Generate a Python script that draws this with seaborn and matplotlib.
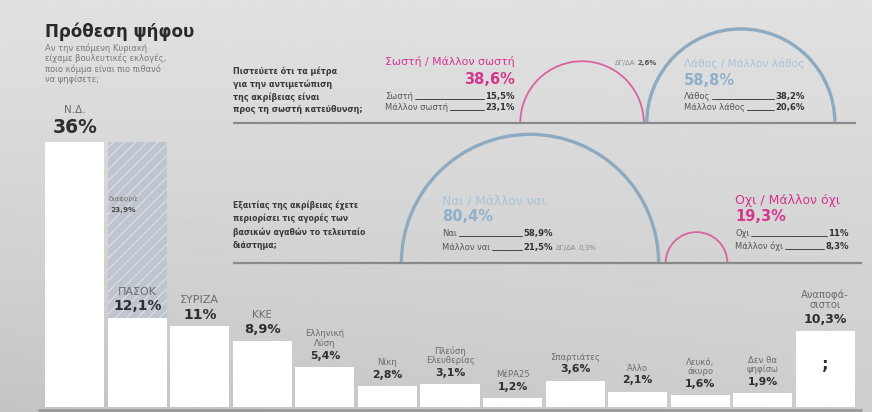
import numpy as np
import pandas as pd
import matplotlib
matplotlib.use('Agg')
import matplotlib.pyplot as plt
from matplotlib.patches import Arc
import seaborn as sns

# ---------------- data ----------------
parties = ['Ν.Δ.', 'ΠΑΣΟΚ', 'ΣΥΡΙΖΑ', 'ΚΚΕ', 'Ελληνική\nΛύση', 'Νίκη',
           'Πλεύση\nΕλευθερίας', 'ΜέΡΑ25', 'Σπαρτιάτες', 'Άλλο',
           'Λευκό,\nάκυρο', 'Δεν θα\nψηφίσω', 'Αναποφά-\nσιστοι']
vote = [36, 12.1, 11, 8.9, 5.4, 2.8, 3.1, 1.2, 3.6, 2.1, 1.6, 1.9, 10.3]
vote_labels = ['36%', '12,1%', '11%', '8,9%', '5,4%', '2,8%', '3,1%',
               '1,2%', '3,6%', '2,1%', '1,6%', '1,9%', '10,3%']
gap_labels = ['διαφορά', '23,9%']

title = 'Πρόθεση ψήφου'
subtitle = 'Αν την επόμενη Κυριακή\nείχαμε βουλευτικές εκλογές,\nποιο κόμμα είναι πιο πιθανό\nνα ψηφίσετε;'

q1_text = 'Πιστεύετε ότι τα μέτρα\nγια την αντιμετώπιση\nτης ακρίβειας είναι\nπρος τη σωστή κατεύθυνση;'
q1_groups = ['Σωστή / Μάλλον σωστή', 'Λάθος / Μάλλον λάθος']
q1_totals = [38.6, 58.8]
q1_total_labels = ['38,6%', '58,8%']
q1_sub = [['Σωστή', 'Μάλλον σωστή'], ['Λάθος', 'Μάλλον λάθος']]
q1_sub_labels = [['15,5%', '23,1%'], ['38,2%', '20,6%']]
q1_dk = ['ΔΓ/ΔΑ', '2,6%']

q2_text = 'Εξαιτίας της ακρίβειας έχετε\nπεριορίσει τις αγορές των\nβασικών αγαθών το τελευταίο\nδιάστημα;'
q2_groups = ['Ναι / Μάλλον ναι', 'Οχι / Μάλλον όχι']
q2_totals = [80.4, 19.3]
q2_total_labels = ['80,4%', '19,3%']
q2_sub = [['Ναι', 'Μάλλον ναι'], ['Οχι', 'Μάλλον όχι']]
q2_sub_labels = [['58,9%', '21,5%'], ['11%', '8,3%']]
q2_dk = ['ΔΓ/ΔΑ', '0,3%']

# ---------------- style ----------------
sns.set_style('white')
plt.rcParams['font.family'] = ['DejaVu Sans']
plt.rcParams['hatch.linewidth'] = 0.8

PINK = '#d4358f'
PINK_ARC = '#d9639f'
BLUE = '#8fb0c8'
BLUE_ARC = '#8eaac0'
BLUE_LIGHT = '#a9c2d5'
DARK = '#2e2e2e'
GREY = '#6c6c6c'

W, H = 872, 412
fig = plt.figure(figsize=(W / 100, H / 100), dpi=100)

# background gradient
bg = fig.add_axes([0, 0, 1, 1], zorder=-5)
yy, xx = np.mgrid[0:1:200j, 0:1:400j]
val = 0.88 - 0.075 * yy - 0.035 * (1 - xx) * yy ** 2
bg.imshow(val, cmap='gray', vmin=0, vmax=1, aspect='auto',
          extent=[0, 1, 0, 1], origin='upper')
bg.set_axis_off()

# ---------------- bar chart ----------------
px_per_pct = 7.36
ylim_top = 40
ax = fig.add_axes([43.5 / W, 5 / H, 813 / W, ylim_top * px_per_pct / H], zorder=1)
df = pd.DataFrame({'party': parties, 'vote': vote})
sns.barplot(data=df, x='party', y='vote', color='white', saturation=1,
            width=0.944, ax=ax, linewidth=0, order=parties)
ax.set_xlim(-0.5, len(parties) - 0.5)
ax.set_ylim(0, ylim_top)
ax.set_axis_off()
ax.patch.set_alpha(0)

# hatched gap between first and second
gap = vote[0] - vote[1]
ax.bar(1, gap, bottom=vote[1], width=0.944, facecolor='#bfc5ce',
       edgecolor='#dde1e6', linewidth=0, hatch='///', zorder=0)
ax.text(0.78, vote[1] + gap * 0.68, gap_labels[0], ha='center', va='center',
        fontsize=5, color='#707070')
ax.text(0.78, vote[1] + gap * 0.615, gap_labels[1], ha='center', va='center',
        fontsize=5.3, color='#4a4a4a', fontweight='bold')

pct_sizes = {0: 13.5, 1: 10, 2: 10, 3: 9.5, 12: 9}
name_sizes = {0: 7.5, 1: 8, 2: 8, 3: 7.5, 12: 7.2}
for i, (p, v, lab) in enumerate(zip(parties, vote, vote_labels)):
    fs = pct_sizes.get(i, 7.8)
    off = 15 if i == 0 else 11.5
    ax.annotate(lab, (i, v), xytext=(0, off), textcoords='offset pixels',
                ha='center', va='center', fontsize=fs, fontweight='bold',
                color=DARK)
    noff = 27 if i == 0 else (21 if fs >= 9 else 19)
    ax.annotate(p, (i, v), xytext=(0, noff), textcoords='offset pixels',
                ha='center', va='bottom', fontsize=name_sizes.get(i, 6.1),
                color=GREY, linespacing=1.05)
ax.text(len(parties) - 1, vote[-1] * 0.56, ';', ha='center', va='center',
        fontsize=12, fontweight='bold', color=DARK)

# ---------------- overlay (pixel coordinates) ----------------
ov = fig.add_axes([0, 0, 1, 1], zorder=3)
ov.set_xlim(0, W)
ov.set_ylim(H, 0)
ov.set_axis_off()
ov.patch.set_alpha(0)

# baseline under bars
ov.plot([38, 862], [409.5, 409.5], color='#9a9a9a', lw=2, solid_capstyle='butt')

ov.text(45, 37, title, fontsize=12, fontweight='bold', color='#2a2a2a', va='baseline')
ov.text(45, 43.5, subtitle, fontsize=6.0, color='#7a7a7a', va='top', linespacing=1.12)

arc_k = 1.6   # px per percentage point of radius


def semi(cx, base, value, color, lw):
    r = value * arc_k
    ov.add_patch(Arc((cx, base), 2 * r, 2 * r, theta1=180, theta2=360,
                     color=color, lw=lw))
    return r


# row 1
base1 = 123
ov.plot([233, 856], [base1, base1], color='#8a8a8a', lw=1.6, solid_capstyle='butt')
ov.text(233, 66, q1_text, fontsize=5.8, fontweight='bold', color='#3a3a3a',
        va='top', linespacing=1.49)
r_p = q1_totals[0] * arc_k
cx_p = 582
semi(cx_p, base1, q1_totals[0], PINK_ARC, 1.3)
r_b = q1_totals[1] * arc_k
cx_b = cx_p + r_p + 3 + r_b
semi(cx_b, base1, q1_totals[1], BLUE_ARC, 2.4)

# row 2
base2 = 263
ov.plot([233, 862], [base2, base2], color='#8a8a8a', lw=1.6, solid_capstyle='butt')
ov.text(233, 200, q2_text, fontsize=5.6, fontweight='bold', color='#3a3a3a',
        va='top', linespacing=1.55)
r_b2 = q2_totals[0] * arc_k
cx_b2 = 530
semi(cx_b2, base2, q2_totals[0], BLUE_ARC, 2.4)
r_p2 = q2_totals[1] * arc_k
cx_p2 = cx_b2 + r_b2 + 7 + r_p2
semi(cx_p2, base2, q2_totals[1], PINK_ARC, 1.3)

fig.canvas.draw()
renderer = fig.canvas.get_renderer()

leaders = []


def block(x, align, head, head_col, head_y, head_fs, tot, tot_col, tot_y,
          subs, sub_labels, num_right, sub_y, lx=None):
    ha = 'right' if align == 'right' else 'left'
    ov.text(x, head_y, head, fontsize=head_fs, color=head_col, ha=ha, va='baseline')
    ov.text(x, tot_y, tot, fontsize=10.5, color=tot_col, ha=ha, va='baseline',
            fontweight='bold')
    if lx is None:
        lx = x
    for s, n, yb in zip(subs, sub_labels, sub_y):
        t1 = ov.text(lx, yb, s, fontsize=6.0, color='#555555', ha='left', va='baseline')
        t2 = ov.text(num_right, yb, n, fontsize=6.1, color='#333333', ha='right',
                     va='baseline', fontweight='bold')
        leaders.append((t1, t2, yb))


block(515, 'right', q1_groups[0], PINK, 65, 7.8, q1_total_labels[0], PINK, 84,
      q1_sub[0], q1_sub_labels[0], 515, [99, 110], lx=385)
block(684, 'left', q1_groups[1], BLUE_LIGHT, 67, 7.6, q1_total_labels[1], BLUE, 85,
      q1_sub[1], q1_sub_labels[1], 805, [99, 110])
block(442, 'left', q2_groups[0], BLUE_LIGHT, 204, 8.8, q2_total_labels[0], BLUE, 221,
      q2_sub[0], q2_sub_labels[0], 553, [236, 250])
block(735, 'left', q2_groups[1], PINK, 204, 9.0, q2_total_labels[1], PINK, 221,
      q2_sub[1], q2_sub_labels[1], 849, [236, 249])

# DK/NA notes
ov.text(635, 65, q1_dk[0], fontsize=5, color='#8a8a8a', ha='right', va='baseline')
ov.text(637, 65, q1_dk[1], fontsize=5, color='#555555', ha='left', va='baseline',
        fontweight='bold')
ov.text(576, 250, q2_dk[0], fontsize=5, color='#8a8a8a', ha='right', va='baseline')
ov.text(578, 250, q2_dk[1], fontsize=5, color='#8a8a8a', ha='left', va='baseline')

fig.canvas.draw()
for t1, t2, yb in leaders:
    b1 = t1.get_window_extent(renderer)
    b2 = t2.get_window_extent(renderer)
    ov.plot([b1.x1 + 2, b2.x0 - 2], [yb, yb], color='#444444', lw=0.7)

fig.savefig('out.png', dpi=100)
